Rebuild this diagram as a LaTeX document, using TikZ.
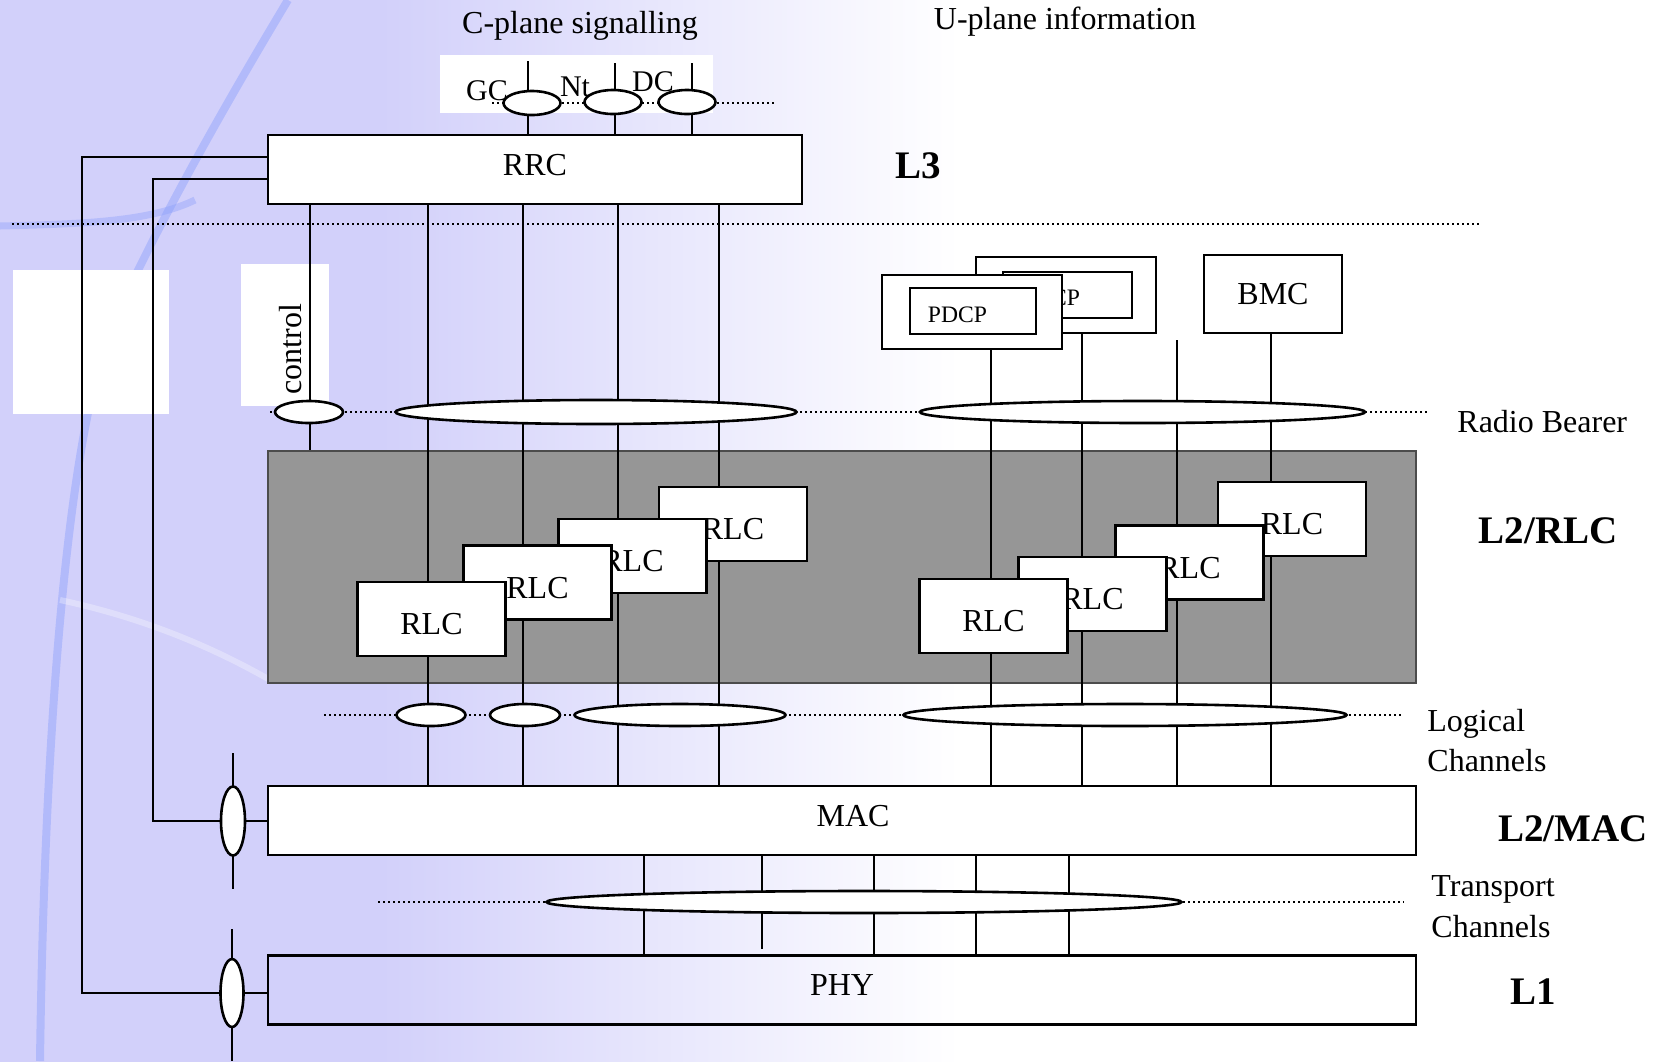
\documentclass[tikz,border=0pt]{standalone}
\usepackage{fontspec}
\setmainfont{Liberation Serif}
\usetikzlibrary{shapes.geometric,calc}

\definecolor{lavender}{RGB}{210,208,250}
\definecolor{streak}{RGB}{140,160,250}
\definecolor{rlcgray}{RGB}{150,150,150}

\tikzset{
  layer/.style={draw, line width=1.3pt, inner sep=0pt, text depth=5pt,
    minimum width=574pt, minimum height=34.5pt, font=\fontsize{16}{19}\selectfont},
  rlcbox/.style={draw, fill=white, line width=1.4pt, inner sep=0pt, text height=16pt,
    minimum width=74pt, minimum height=37pt, font=\fontsize{16}{19}\selectfont},
  chan/.style={draw, fill=white, ellipse, line width=1.3pt, inner sep=0pt, minimum height=11pt},
  wire/.style={line width=1pt},
  dots/.style={line width=0.8pt, dash pattern=on 0.8pt off 1.7pt},
  lbl/.style={font=\fontsize{16}{19}\selectfont, inner sep=0pt},
  lyr/.style={font=\fontsize{19.5}{23}\selectfont\bfseries, inner sep=0pt}
}

\begin{document}
\begin{tikzpicture}[x=0.5pt, y=-0.5pt]
\useasboundingbox (0,0) rectangle (1655,1061);
%%%%%%%%%%%%%%%%% background
\fill[white] (-5,-5) rectangle (1660,1066);
\fill[lavender] (-5,-5) rectangle (381,1066);
\shade[left color=lavender, right color=white] (380,-5) rectangle (960,1066);
\draw[streak, line width=4pt, opacity=.45] (288,0) .. controls (210,130) and (150,240) .. (110,330) .. controls (70,440) and (45,700) .. (40,1061);
\draw[streak, line width=3.5pt, opacity=.4] (0,226) .. controls (80,224) and (150,222) .. (195,200);
\draw[white, line width=3pt, opacity=.3] (60,600) .. controls (130,615) and (200,640) .. (270,680);
\fill[white] (13,270) rectangle (169,414);
\fill[white] (241,264) rectangle (329,406);
\fill[white] (440,55) rectangle (713,113);

%%%%%%%%%%%%%%%%% layers
\node[layer, fill=white, minimum width=267pt] (rrc) at (535,169.5) {RRC};
\node[layer, fill=white] (mac) at (842,820.5) {\hspace*{11pt}MAC};
\node[layer] (phy) at (842,990) {PHY};
\node[draw=black!70, fill=rlcgray, line width=1pt, inner sep=0pt,
  minimum width=574pt, minimum height=116pt] (rlclayer) at (842,567) {};

%%%%%%%%%%%%%%%%% dotted boundaries
\foreach \n/\a/\b/\y in {lthree/12/1481/224, sig/492/775/103, rb/270/1428/412,
    lc/324/1402/715, tc/378/1404/902}{
  \coordinate (\n L) at (\a,\y);
  \coordinate (\n R) at (\b,\y);
  \draw[dots] (\n L) -- (\n R);
}

%%%%%%%%%%%%%%%%% upper boxes
\node[draw, fill=white, line width=1.4pt, minimum width=90pt, minimum height=38pt] (pdcpB) at (1066,295) {};
\node[draw, fill=white, line width=0.7pt, minimum width=64.5pt, minimum height=23pt] (pdcpBin) at (1067.5,295) {};
\node[font=\fontsize{11.8}{14}\selectfont, inner sep=0pt] (pdcpBtxt) at (1050.5,298) {PDCP};
\node[draw, fill=white, line width=1.4pt, minimum width=90pt, minimum height=37pt] (pdcpA) at (972,312) {};
\node[draw, fill=white, line width=0.7pt, minimum width=63pt, minimum height=23pt] (pdcpAin) at (973,311) {};
\node[font=\fontsize{11.8}{14}\selectfont, inner sep=0pt] (pdcpAtxt) at (957.5,315) {PDCP};
\node[draw, fill=white, line width=1.4pt, minimum width=69pt, minimum height=39pt,
  font=\fontsize{16}{19}\selectfont] (bmc) at (1273,294) {BMC};

%%%%%%%%%%%%%%%%% channel lines
\foreach \n/\x in {ctl/310, ca/428, cb/523, cc/618, cd/719, ua/991, ub/1082, uc/1177, ud/1271,
    ta/644, tb/762, tc/874, td/976, te/1069}
  \coordinate (\n) at (\x,0);
\draw[wire] (rrc.south -| ctl) -- (rlclayer.north -| ctl);
\foreach \c in {ca,cb,cc,cd}
  \draw[wire] (rrc.south -| \c) -- (mac.north -| \c);
\coordinate (ucTop) at (1177,340);
\draw[wire] (pdcpA.south -| ua) -- (mac.north -| ua);
\draw[wire] (pdcpB.south -| ub) -- (mac.north -| ub);
\draw[wire] (ucTop) -- (mac.north -| uc);
\draw[wire] (bmc.south -| ud) -- (mac.north -| ud);
\foreach \c in {ta,tc,td,te}
  \draw[wire] (mac.south -| \c) -- (phy.north -| \c);
\coordinate (tbEnd) at (762,949);
\draw[wire] (mac.south -| tb) -- (tbEnd);
\foreach \n/\x/\y in {gtA/528/61, gtB/615/63, gtC/692/63}{
  \coordinate (\n) at (\x,\y);
  \draw[wire] (\n) -- (rrc.north -| \n);
}

%%%%%%%%%%%%%%%%% control feedback to MAC and PHY
\coordinate (fbOuter) at (82,157);
\coordinate (fbInner) at (153,179);
\coordinate (macTop) at (233,753);
\coordinate (macBot) at (233,889);
\coordinate (phyTop) at (232,929);
\coordinate (phyBot) at (232,1061);
\draw[wire] (macTop) -- (macBot);
\draw[wire] (phyTop) -- (phyBot);
\node[chan, minimum width=12pt, minimum height=34.5pt] (macE) at (233,821) {};
\node[chan, minimum width=11.5pt, minimum height=34pt] (phyE) at (232,993) {};
\draw[wire] (rrc.west |- fbOuter) -- (fbOuter) |- (phyE.west);
\draw[wire] (phyE.east) -- (phy.west |- phyE);
\draw[wire] (rrc.west |- fbInner) -- (fbInner) |- (macE.west);
\draw[wire] (macE.east) -- (mac.west |- macE);

%%%%%%%%%%%%%%%%% RLC entities
\node[rlcbox] (rlcD) at (733,524) {RLC};
\node[rlcbox] (rlcC) at (632.5,556) {RLC};
\node[rlcbox] (rlcB) at (537.5,582.5) {RLC};
\node[rlcbox] (rlcA) at (431.5,619) {RLC};
\node[rlcbox] (rlcH) at (1292,519) {RLC};
\node[rlcbox] (rlcG) at (1189.5,562.5) {RLC};
\node[rlcbox] (rlcF) at (1092.5,594) {RLC};
\node[rlcbox] (rlcE) at (993.5,616) {RLC};

%%%%%%%%%%%%%%%%% channel bundles
\node[chan, minimum width=28.5pt, minimum height=12pt] (gcE) at (532,103) {};
\node[chan, minimum width=28.5pt, minimum height=12pt] (ntE) at (613,102) {};
\node[chan, minimum width=28.5pt, minimum height=12pt] (dcE) at (687,102) {};
\node[chan, minimum width=34pt] (ctlE) at (309,412) {};
\node[chan, minimum width=200.5pt, minimum height=12pt] (rbC) at (596,412) {};
\node[chan, minimum width=222.5pt] (rbU) at (1142.5,412) {};
\node[chan, minimum width=34.5pt] (lcA) at (431,715) {};
\node[chan, minimum width=35pt] (lcB) at (525,715) {};
\node[chan, minimum width=105.5pt] (lcC) at (680,715) {};
\node[chan, minimum width=221.5pt] (lcU) at (1125,715) {};
\node[chan, minimum width=317.5pt] (tcE) at (864,902) {};

%%%%%%%%%%%%%%%%% labels
\node[lbl] (cplane) at (580,26) {C-plane signalling};
\node[lbl] (uplane) at (1065,22) {U-plane information};
\node[lbl, font=\fontsize{15}{18}\selectfont, anchor=base] (gc) at (487,100) {GC};
\node[lbl, font=\fontsize{15}{18}\selectfont, anchor=base] (nt) at (575,96) {Nt};
\node[lbl, font=\fontsize{15}{18}\selectfont, anchor=base] (dc) at (653,91) {DC};
\node[lbl, rotate=90] (control) at (291,349) {control};
\node[lbl, anchor=west] (rbTxt) at (1457,422) {Radio Bearer};
\node[lbl, anchor=west] (lcTxtA) at (1427,724) {Logical};
\node[lbl, anchor=west] (lcTxtB) at (1427,761) {Channels};
\node[lbl, anchor=west] (tcTxtA) at (1431,889) {Transport};
\node[lbl, anchor=west] (tcTxtB) at (1431,927) {Channels};
\node[lyr] (lthree) at (918,166) {L3};
\node[lyr] (ltwoR) at (1548,531) {L2/RLC};
\node[lyr] (ltwoM) at (1573,829) {L2/MAC};
\node[lyr] (lone) at (1533,992) {L1};
\end{tikzpicture}
\end{document}
